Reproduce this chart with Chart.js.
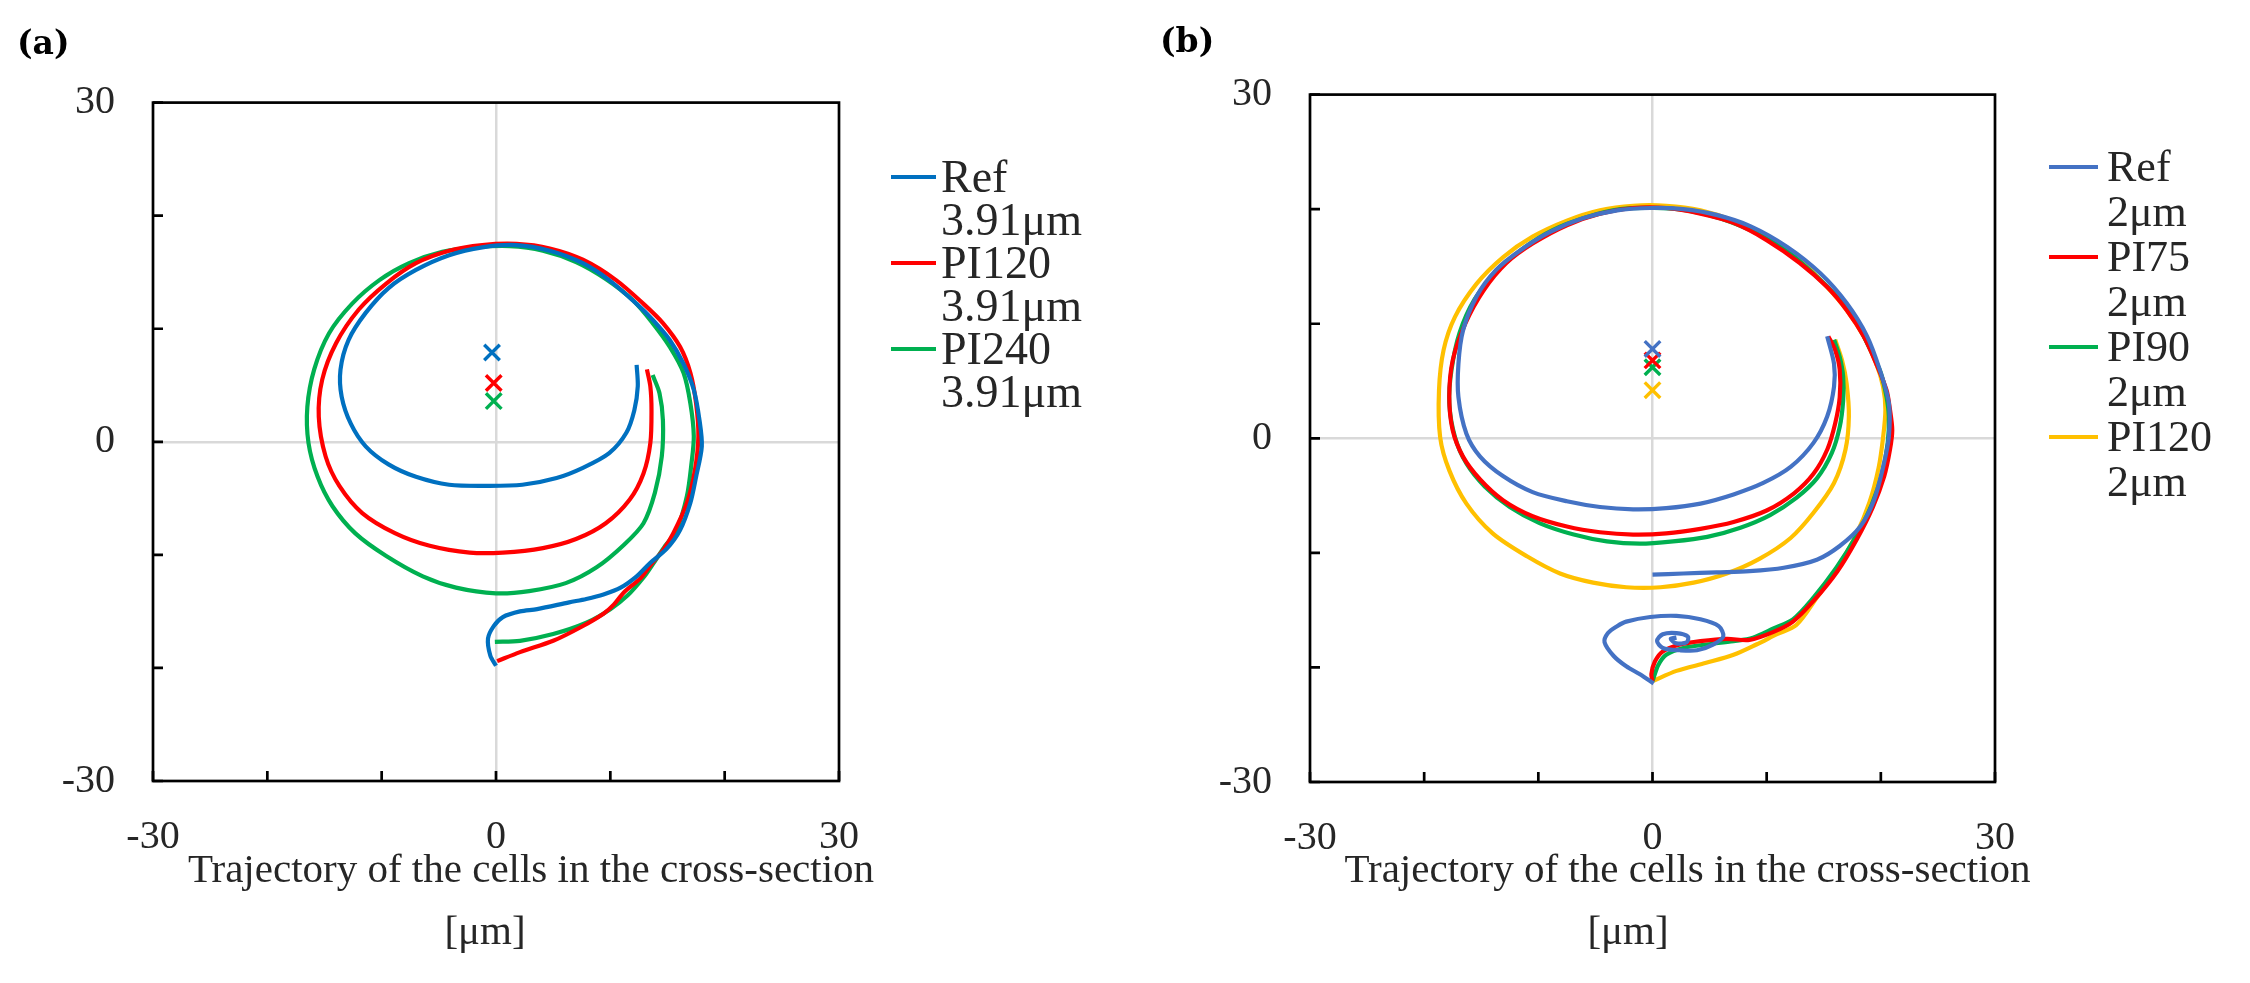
<!DOCTYPE html>
<html>
<head>
<meta charset="utf-8">
<script src="https://cdn.jsdelivr.net/npm/chart.js@4.4.1/dist/chart.umd.min.js"></script>
<style>
  html, body { margin: 0; padding: 0; background: #ffffff; }
  #cA { position: absolute; left: 0; top: 0; }
  #cB { position: absolute; left: 1130px; top: 0; }
</style>
</head>
<body>
<canvas id="cA" width="1130" height="983"></canvas>
<canvas id="cB" width="1120" height="983"></canvas>
<script>
// ---------------- axis / tick data ----------------
const axisMin = -30, axisMax = 30, axisStep = 10;
const majorTicks = [-30, -20, -10, 0, 10, 20, 30];
const labeledTicks = [-30, 0, 30];
const axisTitleLines = ['Trajectory of the cells in the cross-section', '[\u03bcm]'];
const panelTitles = ['(a)', '(b)'];

// ---------------- panel (a) ----------------
const legendA = [['Ref', '3.91\u03bcm'], ['PI120', '3.91\u03bcm'], ['PI240', '3.91\u03bcm']];
const colorsA = ['#0070C0', '#FF0000', '#00B050'];

const refA_x = [0, -0.5, -0.7, -0.2, 0.6, 2.1, 3.6, 6.4, 7.9, 9.4, 10.9, 12.3, 13.5, 14.9, 16.1, 17, 17.5, 18, 17.8, 17.3, 16.4, 15.2, 13.7, 12.3, 9.9, 7.6, 4.7, 1.8, -1.2, -4.1, -7, -9.4, -11.4, -12.9, -13.6, -13.5, -12.7, -11.4, -9.4, -7, -4.1, -0.6, 2.3, 5.3, 7.6, 9.9, 11.4, 12.1, 12.4, 12.3];
const refA_y = [-19.8, -18.9, -17.4, -16.3, -15.5, -15, -14.8, -14.2, -13.9, -13.5, -12.9, -11.9, -10.7, -9.5, -7.8, -5.4, -3.1, -0.4, 1.9, 4.6, 6.9, 9, 10.8, 12.2, 14.3, 15.8, 16.9, 17.4, 17.2, 16.5, 15.2, 13.6, 11.4, 9, 6.4, 4, 1.6, -0.4, -2, -3.1, -3.8, -3.9, -3.8, -3.2, -2.3, -1, 0.8, 2.8, 4.9, 6.8];

const pi120A_x = [0.1, 2.1, 5, 7.4, 9.4, 10.3, 11.2, 12.6, 13.6, 14.6, 15.5, 16.7, 17.4, 17.7, 17.5, 17, 16.1, 14.6, 12.9, 10.5, 7.6, 4.7, 1.8, -1.2, -4.1, -7, -9.6, -12, -14, -15.2, -15.5, -14.9, -13.7, -11.7, -8.8, -5.8, -2.3, 0.6, 4.1, 7, 9.6, 11.7, 12.9, 13.5, 13.6, 13.5, 13.2];
const pi120A_y = [-19.4, -18.6, -17.6, -16.4, -15.2, -14.4, -13.3, -12.1, -10.8, -9.6, -8.1, -5.4, -2.5, 0.5, 3.4, 6.1, 8.4, 10.5, 12.2, 14.3, 16.1, 17.1, 17.5, 17.4, 16.9, 15.8, 14, 11.7, 8.7, 5.5, 2.2, -1.3, -3.9, -6.3, -8.1, -9.2, -9.8, -9.8, -9.4, -8.6, -7.2, -5.1, -2.8, -0.1, 2.8, 4.9, 6.4];

const pi240A_x = [-0.1, 2.1, 5, 7.9, 10, 11.5, 12.9, 13.8, 14.8, 15.8, 16.7, 17.1, 17.3, 17, 16.4, 15.2, 13.7, 12, 9.6, 7, 4.1, 1.2, -1.8, -4.7, -7.6, -10.2, -12.6, -14.6, -15.9, -16.5, -16.4, -15.6, -14.3, -12.3, -9.6, -6.4, -3.5, 0, 2.9, 6.1, 8.8, 11.2, 12.9, 13.9, 14.5, 14.6, 14.3, 13.7];
const pi240A_y = [-17.7, -17.6, -17, -16, -14.8, -13.6, -12, -10.7, -9.2, -7.8, -4.8, -1.9, 0.5, 3.4, 6.1, 8.4, 10.5, 12.5, 14.4, 15.9, 16.9, 17.3, 17.2, 16.8, 15.8, 14.3, 12.2, 9.6, 6.4, 3.1, -0.1, -3.1, -5.7, -8.1, -10.1, -11.9, -12.9, -13.4, -13.2, -12.5, -11.1, -9.1, -7.2, -4.5, -1.3, 1.9, 4.3, 5.9];

const markA_x = [-0.35, -0.2, -0.2];
const markA_y = [7.9, 5.2, 3.6];

// ---------------- panel (b) ----------------
const legendB = [['Ref', '2\u03bcm'], ['PI75', '2\u03bcm'], ['PI90', '2\u03bcm'], ['PI120', '2\u03bcm']];
const colorsB = ['#4472C4', '#FF0000', '#00B050', '#FFC000'];

const refB_loop_x = [0.1, -1.1, -2.3, -3.4, -4.2, -3.9, -3.1, -2.3, -0.2, 2.1, 4.2, 5.8, 6.2, 5.3, 3.9, 2.4, 0.9, 0.4, 0.9, 2.1, 3.1, 3, 2.1, 1.6, 2.1];
const refB_loop_y = [-21.4, -20.6, -19.9, -19, -17.8, -17, -16.4, -16, -15.6, -15.5, -15.8, -16.4, -17.3, -18, -18.5, -18.5, -18.3, -17.7, -17.1, -17, -17.3, -17.8, -17.9, -17.5, -17.4];

const refB_x = [0, 2.7, 5.6, 8.5, 11.5, 14.4, 16.4, 18.2, 19.4, 20.2, 20.7, 20.7, 19.9, 18.8, 17, 14.7, 11.8, 8.6, 5.6, 2.7, -0.2, -3.1, -6.1, -9, -11.6, -13.7, -15.4, -16.6, -17, -17, -16.3, -15.1, -13.1, -10.5, -7.5, -4.6, -1.7, 1.2, 4.2, 7.1, 9.7, 12.1, 14.1, 15.3, 15.9, 15.9, 15.3];
const refB_y = [-11.9, -11.8, -11.7, -11.6, -11.3, -10.6, -9.4, -7.7, -5.4, -2.5, 0.1, 3.1, 6, 8.9, 11.8, 14.4, 16.7, 18.5, 19.5, 20, 20.1, 19.9, 19.2, 18, 16.4, 14.7, 12.4, 9.4, 6.5, 3.6, 0.4, -1.6, -3.3, -4.7, -5.5, -6, -6.2, -6.1, -5.7, -4.9, -3.9, -2.5, -0.4, 1.9, 4.5, 6.5, 8.9];

const pi75B_x = [0, -0.1, 0.2, 0.9, 2.4, 4.2, 6.5, 8.5, 10.6, 12.3, 14.1, 16.2, 17.9, 19.3, 20.3, 20.8, 21, 20.8, 20.5, 19.6, 18.5, 17, 15.3, 12.9, 10, 7.1, 4.2, 1.2, -1.7, -4.6, -7.5, -10.5, -12.8, -14.8, -16.4, -17.5, -17.8, -17.5, -16.6, -15.1, -13.1, -10.5, -7.5, -4.6, -1.7, 1.2, 4.2, 7.1, 10, 12.4, 14.1, 15.3, 16, 16.4, 16.4, 16, 15.4];
const pi75B_y = [-21.2, -20.6, -19.5, -18.6, -18, -17.7, -17.5, -17.6, -16.9, -16, -14.2, -11.6, -8.8, -6, -3.3, -1, 0.7, 2.5, 4.2, 6.5, 8.9, 11.2, 13.2, 15.3, 17.3, 18.8, 19.6, 20.1, 20.1, 19.6, 18.6, 17, 15.3, 12.9, 10, 6.8, 3.6, 0.7, -1.6, -3.6, -5.4, -6.8, -7.7, -8.2, -8.4, -8.3, -7.9, -7.3, -6.3, -4.8, -3.1, -1, 1.3, 3.6, 6, 7.7, 8.9];

const pi90B_x = [0, 0.1, 0.5, 1.2, 2.7, 4.7, 7.1, 8.8, 10.6, 12.3, 14.1, 16.1, 17.8, 19.2, 20.1, 20.6, 20.7, 20.5, 20, 19.1, 17.9, 16.4, 14.4, 12.1, 9.1, 5.9, 3, 0.1, -2.8, -5.8, -8.7, -11.3, -13.7, -15.6, -16.9, -17.6, -17.8, -17.3, -16.3, -14.7, -12.5, -9.9, -6.9, -4, -1.1, 1.8, 4.8, 7.7, 10.3, 12.6, 14.4, 15.7, 16.4, 16.7, 16.7, 16.4, 15.9];
const pi90B_y = [-21.2, -20.9, -19.8, -18.9, -18.3, -18, -17.7, -17.4, -16.6, -15.8, -13.9, -11.3, -8.6, -5.8, -3.1, -0.4, 1.9, 3.6, 5.7, 7.7, 10, 12.1, 14.1, 16.1, 17.9, 19.2, 19.9, 20.1, 20, 19.3, 18.2, 16.6, 14.5, 12.1, 9.2, 6, 3.1, 0.1, -2.2, -4.2, -6, -7.4, -8.4, -9, -9.2, -9, -8.6, -7.8, -6.7, -5.2, -3.5, -1.3, 1, 3.3, 5.4, 7.1, 8.6];

const pi120B_x = [0, 2.1, 4.7, 7.1, 9.1, 10.9, 12.6, 14.4, 16.2, 17.8, 19, 19.8, 20.2, 20.4, 20.2, 19.6, 18.5, 17, 15.3, 12.9, 10, 7.1, 4.2, 1.2, -1.7, -4.6, -7.5, -10.5, -13.1, -15.4, -17.3, -18.3, -18.7, -18.6, -17.8, -16.3, -14, -11, -8.1, -5.2, -2.3, 0.7, 3.6, 6.5, 9.4, 12.1, 14.1, 15.9, 16.9, 17.2, 17, 16.6, 16];
const pi120B_y = [-21.2, -20.3, -19.6, -18.9, -18, -17.1, -16.3, -13.9, -11.3, -8.5, -5.6, -2.6, 0.1, 2.5, 4.5, 6.5, 8.9, 11.2, 13.2, 15.6, 17.6, 19, 19.9, 20.3, 20.3, 19.9, 19, 17.6, 15.8, 13.5, 10.6, 7.7, 4.2, 0.1, -2.8, -5.7, -8.3, -10.3, -11.8, -12.6, -13, -13, -12.6, -11.8, -10.5, -8.7, -6.5, -3.9, -1, 1.9, 4.8, 6.8, 8.6];

const markB_x = [0, 0, 0, 0];
const markB_y = [7.8, 6.8, 6.2, 4.2];

// ---------------- helpers ----------------
const pts = (xs, ys) => xs.map((x, i) => ({ x: x, y: ys[i] }));

function lineDS(xs, ys, color, legendText) {
  return {
    type: 'scatter', data: pts(xs, ys), showLine: true, borderColor: color, backgroundColor: color,
    borderWidth: 4.2, pointRadius: 0, pointHoverRadius: 0, tension: 0.3, fill: false,
    legendText: legendText || null
  };
}
function markDS(xs, ys, colors) {
  return xs.map((x, i) => ({
    type: 'scatter', data: [{ x: x, y: ys[i] }], showLine: false,
    pointStyle: 'crossRot', pointRadius: 11, pointBorderWidth: 3.4,
    pointBorderColor: colors[i], pointBackgroundColor: colors[i], borderColor: colors[i]
  }));
}

// plot frame + inward tick marks
const frameTicks = {
  id: 'frameTicks',
  beforeDatasetsDraw(chart) {
    const { ctx, chartArea: a, scales } = chart;
    ctx.save();
    ctx.strokeStyle = '#000000';
    ctx.lineWidth = 2.7;
    ctx.beginPath();
    majorTicks.forEach(v => {
      const px = scales.x.getPixelForValue(v);
      ctx.moveTo(px, a.bottom); ctx.lineTo(px, a.bottom - 10);
      const py = scales.y.getPixelForValue(v);
      ctx.moveTo(a.left, py); ctx.lineTo(a.left + 10, py);
    });
    ctx.stroke();
    ctx.strokeRect(a.left, a.top, a.right - a.left, a.bottom - a.top);
    ctx.restore();
  }
};

// two-line x-axis title (drawn without width compression)
const axisTitle = {
  id: 'axisTitle',
  afterDraw(chart, args, o) {
    const { ctx, chartArea: a } = chart;
    const cx = (a.left + a.right) / 2;
    ctx.save();
    ctx.font = o.font;
    ctx.fillStyle = o.color;
    ctx.textAlign = 'center';
    ctx.textBaseline = 'middle';
    ctx.fillText(axisTitleLines[0], cx + o.dx1, o.y1);
    ctx.fillText(axisTitleLines[1], cx + o.dx2, o.y2);
    ctx.restore();
  }
};

// side legend with two-line entries
const sideLegend = {
  id: 'sideLegend',
  afterDraw(chart, args, o) {
    const ctx = chart.ctx;
    ctx.save();
    ctx.font = o.font;
    ctx.fillStyle = o.color;
    ctx.textAlign = 'left';
    ctx.textBaseline = 'alphabetic';
    let k = 0;
    chart.data.datasets.forEach(ds => {
      if (!ds.legendText) return;
      const base = o.firstBaseline + k * o.entryGap;
      ctx.strokeStyle = ds.borderColor;
      ctx.lineWidth = o.lineWidth;
      ctx.beginPath();
      ctx.moveTo(o.x0, base - o.lineRise);
      ctx.lineTo(o.x1, base - o.lineRise);
      ctx.stroke();
      ds.legendText.forEach((t, i) => ctx.fillText(t, o.textX, base + i * o.lineGap));
      k++;
    });
    ctx.restore();
  }
};

const tickFont = { family: '"Liberation Serif", serif', size: 40, lineHeight: 1.2 };

function makeOptions(p) {
  return {
    responsive: false,
    devicePixelRatio: 1,
    animation: false,
    events: [],
    layout: { padding: { left: p.padLeft, right: p.padRight, top: 0, bottom: 0 } },
    plugins: {
      legend: { display: false },
      tooltip: { enabled: false },
      title: {
        display: true, text: p.title, align: 'start', color: '#000000',
        font: { family: '"DejaVu Serif", serif', size: 33, weight: 'bold', lineHeight: 1.2 },
        padding: { top: p.titleTop, bottom: p.titleBottom }
      },
      sideLegend: p.legend,
      axisTitle: { font: '41px "Liberation Serif", serif', color: '#262626', dx1: 35, dx2: p.unitDx, y1: 871, y2: 933 }
    },
    scales: {
      x: {
        type: 'linear', position: 'bottom', min: axisMin, max: axisMax,
        afterFit: s => { s.height = p.xHeight; },
        border: { display: false },
        grid: {
          drawTicks: false, lineWidth: 2.5,
          color: c => (c.tick && c.tick.value === 0) ? '#d9d9d9' : 'rgba(0,0,0,0)'
        },
        ticks: {
          stepSize: axisStep, autoSkip: false, maxRotation: 0, padding: 32,
          font: tickFont, color: '#262626',
          callback: v => labeledTicks.includes(v) ? String(v) : ''
        },
        title: { display: false }
      },
      y: {
        type: 'linear', position: 'left', min: axisMin, max: axisMax,
        afterFit: s => { s.width = p.yWidth; },
        border: { display: false },
        grid: {
          drawTicks: false, lineWidth: 2.5,
          color: c => (c.tick && c.tick.value === 0) ? '#d9d9d9' : 'rgba(0,0,0,0)'
        },
        ticks: {
          stepSize: axisStep, autoSkip: false, padding: 38,
          font: tickFont, color: '#262626',
          callback: v => labeledTicks.includes(v) ? String(v) : ''
        }
      }
    }
  };
}

// ---------------- chart (a) ----------------
new Chart(document.getElementById('cA'), {
  type: 'scatter',
  data: {
    datasets: [
      lineDS(refA_x, refA_y, colorsA[0], legendA[0]),
      lineDS(pi120A_x, pi120A_y, colorsA[1], legendA[1]),
      lineDS(pi240A_x, pi240A_y, colorsA[2], legendA[2])
    ].concat(markDS(markA_x, markA_y, colorsA))
  },
  options: makeOptions({
    title: panelTitles[0], padLeft: 17, padRight: 291, yWidth: 136, xHeight: 202,
    titleTop: 26, titleBottom: 37, unitDx: -11,
    legend: { font: '46px "Liberation Serif", serif', color: '#262626', x0: 891, x1: 936, textX: 941,
              firstBaseline: 192, lineGap: 43, entryGap: 86, lineRise: 15, lineWidth: 4.2 }
  }),
  plugins: [frameTicks, sideLegend, axisTitle]
});

// ---------------- chart (b) ----------------
new Chart(document.getElementById('cB'), {
  type: 'scatter',
  data: {
    datasets: [
      lineDS(refB_x, refB_y, colorsB[0], legendB[0]),
      lineDS(refB_loop_x, refB_loop_y, colorsB[0], null),
      lineDS(pi75B_x, pi75B_y, colorsB[1], legendB[1]),
      lineDS(pi90B_x, pi90B_y, colorsB[2], legendB[2]),
      lineDS(pi120B_x, pi120B_y, colorsB[3], legendB[3])
    ].concat(markDS(markB_x, markB_y, colorsB))
  },
  options: makeOptions({
    title: panelTitles[1], padLeft: 30, padRight: 255, yWidth: 150, xHeight: 201,
    titleTop: 24, titleBottom: 31, unitDx: -24.5,
    legend: { font: '44px "Liberation Serif", serif', color: '#262626', x0: 919, x1: 968, textX: 977,
              firstBaseline: 181, lineGap: 45, entryGap: 90, lineRise: 14, lineWidth: 4.2 }
  }),
  plugins: [frameTicks, sideLegend, axisTitle]
});
</script>
</body>
</html>
